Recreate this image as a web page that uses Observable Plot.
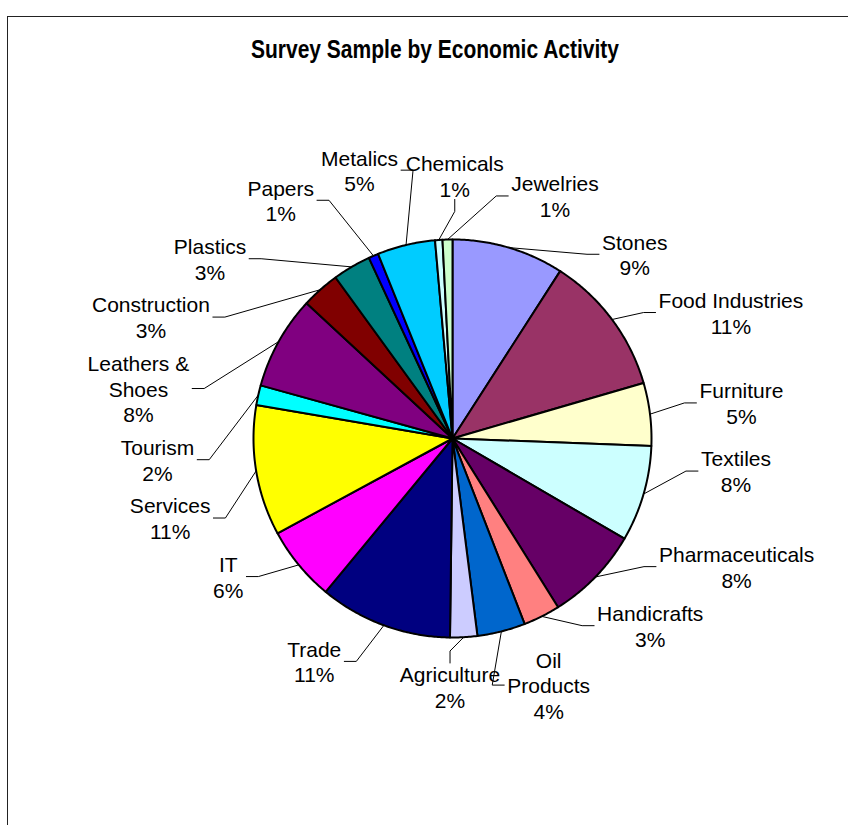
<!DOCTYPE html>
<html><head><meta charset="utf-8">
<script src="https://cdn.jsdelivr.net/npm/d3@7"></script>
<script src="https://cdn.jsdelivr.net/npm/@observablehq/plot@0.6"></script>
<style>
html,body{margin:0;padding:0;background:#fff;}
#wrap{position:relative;width:848px;height:825px;overflow:hidden;font-family:"Liberation Sans",Arial,sans-serif;}
#chart{position:absolute;left:0;top:0;}
#frame{position:absolute;left:7px;top:16px;width:900px;height:900px;border-left:1px solid #222;border-top:1px solid #222;pointer-events:none;}
#title{position:absolute;left:0;width:870px;top:36px;text-align:center;font:bold 21px/1 "Liberation Sans",Arial,sans-serif;transform:scaleY(1.2);transform-origin:0 0;color:#000;}
</style></head><body>
<div id="wrap"><div id="chart"></div><div id="frame"></div><div id="title">Survey Sample by Economic Activity</div></div>
<script>
// ---- data (clockwise from 12 o'clock) ----
const categories = ["Stones","Food Industries","Furniture","Textiles","Pharmaceuticals","Handicrafts","Oil\nProducts","Agriculture","Trade","IT","Services","Tourism","Leathers &\nShoes","Construction","Plastics","Papers","Metalics","Chemicals","Jewelries"];
const shares = [9.1,11.4,5.1,7.8,7.7,3.0,3.9,2.2,10.8,6.1,10.6,1.6,7.6,3.1,3.1,0.8,4.7,0.6,0.8];
const colors = ["#9999FF","#993366","#FFFFCC","#CCFFFF","#660066","#FF8080","#0066CC","#CCCCFF","#000080","#FF00FF","#FFFF00","#00FFFF","#800080","#800000","#008080","#0000FF","#00CCFF","#CCFFFF","#CCFFCC"];

// ---- layout ----
const W = 848, H = 825, CX = 452, CY = 438, R = 199;
const FS = 21, LH = FS * 1.22, PAD = 7, BIAS = 18 * Math.PI / 180, EDGE = 14;
const TAU = 2 * Math.PI;

const total = d3.sum(shares);
let acc = 0;
const slices = categories.map((c, i) => {
  const a0 = acc / total * TAU; acc += shares[i];
  const a1 = acc / total * TAU;
  return {i, name: c, color: colors[i], a0, a1, mid: (a0 + a1) / 2, pct: Math.round(shares[i] / total * 100)};
});

// slice polygons in unit coordinates (radius 1, y up)
const polyPts = [];
slices.forEach(s => {
  polyPts.push({k: s.i, x: 0, y: 0, color: s.color});
  const n = Math.max(2, Math.ceil((s.a1 - s.a0) / (Math.PI / 360)));
  for (let j = 0; j <= n; j++) {
    const a = s.a0 + (s.a1 - s.a0) * j / n;
    polyPts.push({k: s.i, x: Math.sin(a), y: Math.cos(a), color: s.color});
  }
  polyPts.push({k: s.i, x: 0, y: 0, color: s.color});
});

// label layout (pixel space), derived from slice mid-angles
const ctx = document.createElement("canvas").getContext("2d");
ctx.font = FS + 'px "Liberation Sans", Arial, sans-serif';
const labs = slices.map(s => {
  const text = s.name + "\n" + s.pct + "%";
  const lines = text.split("\n");
  const w = d3.max(lines, l => ctx.measureText(l).width);
  let phi = s.mid;
  if (phi > Math.PI / 2 && phi < 3 * Math.PI / 2) phi -= BIAS * Math.sin(2 * (phi - Math.PI / 2));
  else if (phi > 3 * Math.PI / 2) phi -= 0.7 * BIAS * Math.sin(2 * (phi - 3 * Math.PI / 2));
  return {s, text, hw: w / 2, hh: lines.length * LH / 2, phi};
});
function gapAt(ux, uy) {
  const p = v => Math.max(0, v);
  return 38 - 15 * p(uy) ** 2 + 25 * p(-ux) * p(0.3 - uy)
       - 40 * p(ux) * p(-uy) - 30 * p(ux) * p(uy) + 15 * ux ** 8;
}
function place(L) {
  const ux = Math.sin(L.phi), uy = -Math.cos(L.phi);
  const sup = L.hw * Math.abs(ux) + L.hh * Math.abs(uy);
  const d = R + gapAt(ux, uy) + sup;
  L.cx = Math.max(EDGE + L.hw, Math.min(W - EDGE - L.hw, CX + ux * d));
  L.cy = CY + uy * d;
}
for (let it = 0; it < 6000; it++) {
  labs.forEach(place);
  let moved = false;
  for (let i = 0; i < labs.length; i++) for (let j = i + 1; j < labs.length; j++) {
    const A = labs[i], B = labs[j];
    if (Math.abs(A.cx - B.cx) < A.hw + B.hw + PAD && Math.abs(A.cy - B.cy) < A.hh + B.hh + PAD) {
      let d = B.phi - A.phi;
      d = ((d + Math.PI) % TAU + TAU) % TAU - Math.PI;
      const st = 0.002;
      if (d >= 0) { A.phi -= st; B.phi += st; } else { A.phi += st; B.phi -= st; }
      moved = true;
    }
  }
  if (!moved) break;
}
labs.forEach(place);

const toU = (px, py) => ({x: (px - CX) / R, y: (CY - py) / R});
const labelRows = labs.map(L => ({...toU(L.cx, L.cy), text: L.text}));
const leaderPts = [];
labs.forEach((L, k) => {
  const th = L.s.mid;
  const p0 = [CX + Math.sin(th) * R, CY - Math.cos(th) * R];
  let anc, elb;
  if (Math.abs(Math.sin(L.phi)) < 0.3) {
    if (Math.cos(L.phi) > 0) { anc = [L.cx, L.cy + L.hh - 2]; elb = [L.cx, anc[1] + 12]; }
    else { anc = [L.cx, L.cy - L.hh + 2]; elb = [L.cx, anc[1] - 12]; }
  } else if (L.cx > p0[0]) { anc = [L.cx - L.hw - 3, L.cy]; elb = [anc[0] - 12, L.cy]; }
  else { anc = [L.cx + L.hw + 3, L.cy]; elb = [anc[0] + 12, L.cy]; }
  [p0, elb, anc].forEach(p => leaderPts.push({k, ...toU(p[0], p[1])}));
});

const chart = Plot.plot({
  width: W, height: H, margin: 0,
  style: {fontFamily: '"Liberation Sans", Arial, sans-serif', background: "transparent"},
  x: {domain: [-CX / R, (W - CX) / R], axis: null},
  y: {domain: [-(H - CY) / R, CY / R], axis: null},
  color: {type: "identity"},
  marks: [
    Plot.line(leaderPts, {x: "x", y: "y", z: "k", stroke: "#000", strokeWidth: 1}),
    Plot.line(polyPts, {x: "x", y: "y", z: "k", fill: "color", stroke: "#000", strokeWidth: 2, strokeLinejoin: "round"}),
    Plot.text(labelRows, {x: "x", y: "y", text: "text", fontSize: FS, lineHeight: 1.22, fill: "#000"})
  ]
});
document.getElementById("chart").appendChild(chart);
</script>
</body></html>
